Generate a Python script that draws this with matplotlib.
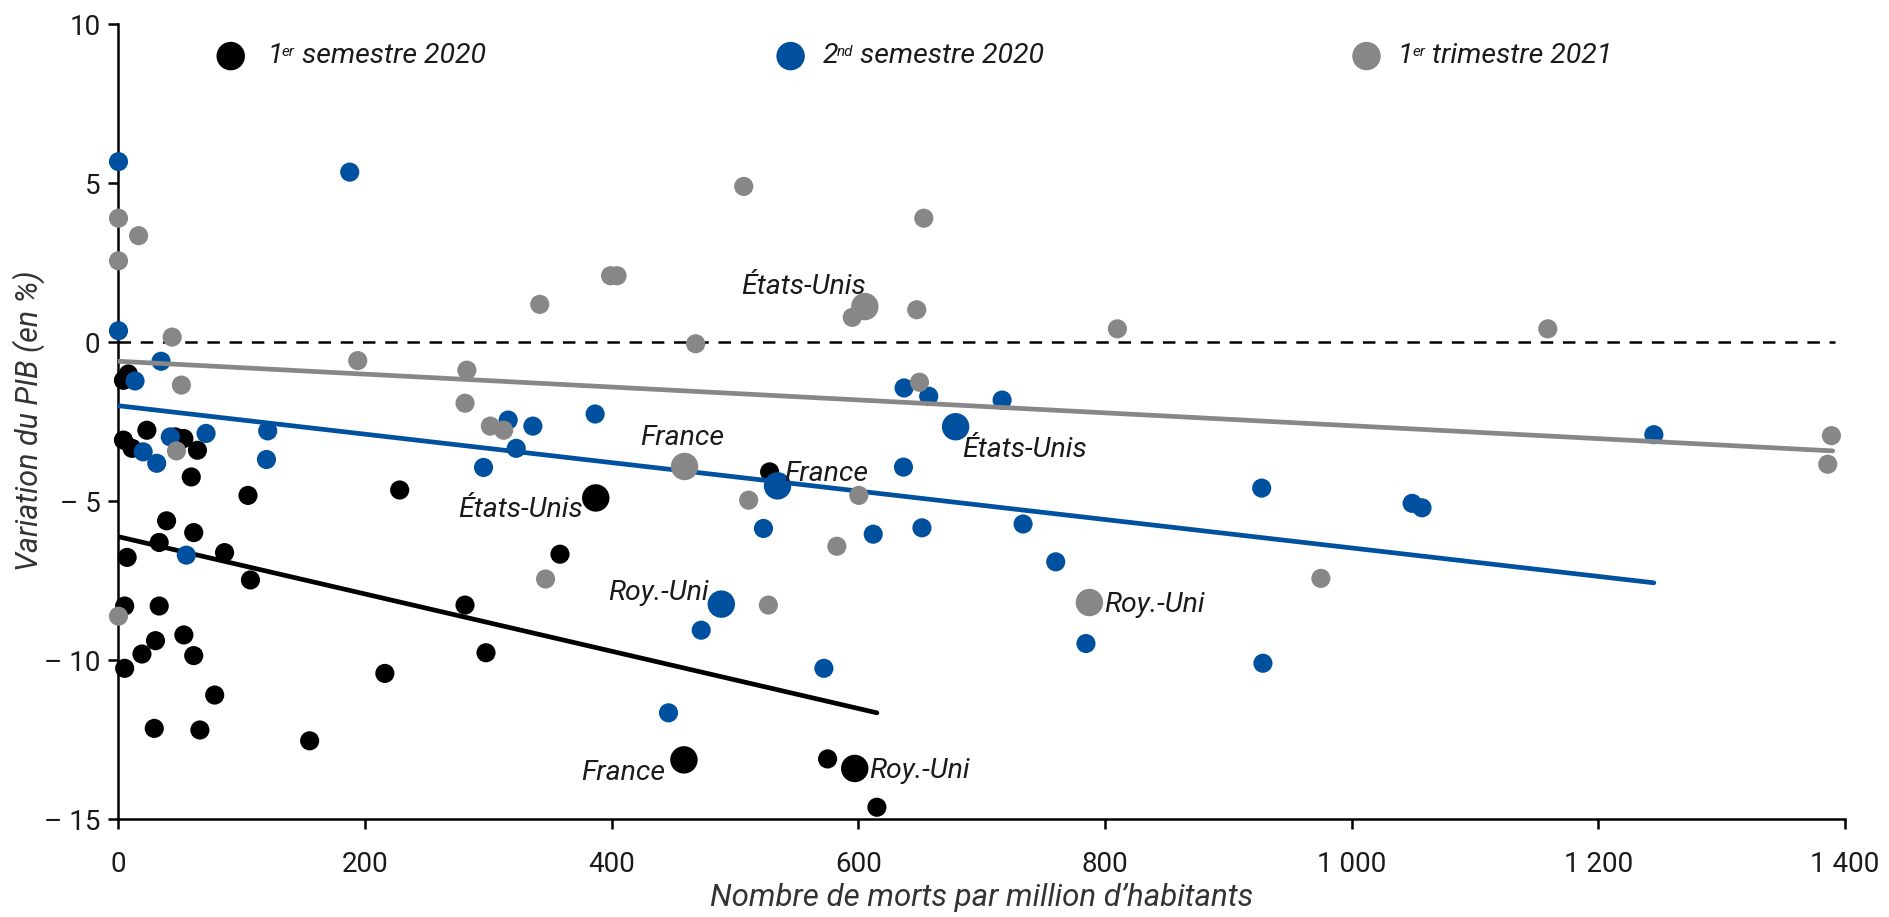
import matplotlib
matplotlib.use("Agg")
import matplotlib.pyplot as plt
import numpy as np

plt.rcParams['font.family'] = ['Roboto', 'DejaVu Sans']
plt.rcParams['lines.scale_dashes'] = False

# ---------------- data ----------------
series_names = ["1er semestre 2020", "2nd semestre 2020", "1er trimestre 2021"]
series_colors = ["#000000", "#0050A0", "#878787"]

# 1er semestre 2020 (black)
s1_x = [4, 8, 23, 4, 11, 46, 53, 64, 59, 105, 228, 39, 61, 33, 7, 86, 107, 358,
        5, 33, 281, 53, 30, 19, 61, 5, 298, 216, 78, 29, 66, 155, 528, 575, 615]
s1_y = [-1.2, -1.0, -2.77, -3.08, -3.34, -2.98, -3.03, -3.40, -4.24, -4.82, -4.65,
        -5.62, -5.99, -6.30, -6.77, -6.62, -7.48, -6.67, -8.30, -8.30, -8.27, -9.21,
        -9.39, -9.81, -9.86, -10.26, -9.77, -10.42, -11.10, -12.15, -12.20, -12.54,
        -4.08, -13.11, -14.63]

# 2nd semestre 2020 (blue)
s2_x = [0, 187.5, 0, 34.5, 13.4, 20, 31, 42, 71, 121, 120, 55, 316, 336, 386.5,
        322.5, 296, 523, 612, 651.5, 637, 657, 716.5, 636.5, 733.5, 760, 927, 1049,
        1057, 928, 784.5, 572, 472.5, 446, 1245]
s2_y = [5.68, 5.35, 0.36, -0.60, -1.22, -3.45, -3.81, -2.98, -2.87, -2.79, -3.69,
        -6.70, -2.45, -2.64, -2.26, -3.34, -3.94, -5.86, -6.04, -5.84, -1.44, -1.70,
        -1.82, -3.93, -5.72, -6.91, -4.59, -5.07, -5.21, -10.10, -9.48, -10.26,
        -9.06, -11.66, -2.91]

# 1er trimestre 2021 (gray)
s3_x = [0, 16.3, 0, 43.5, 341.6, 399, 404.3, 468, 194, 282.5, 51, 281, 301.5, 312.3,
        47, 346.3, 0, 507, 653, 595, 647.3, 810, 649.5, 511, 600.3, 582.5, 527, 975,
        1159, 1389, 1386]
s3_y = [3.90, 3.35, 2.56, 0.16, 1.19, 2.09, 2.09, -0.05, -0.58, -0.88, -1.35, -1.92,
        -2.64, -2.77, -3.42, -7.45, -8.62, 4.90, 3.90, 0.78, 1.02, 0.42, -1.26, -4.97,
        -4.82, -6.42, -8.27, -7.43, 0.42, -2.94, -3.84]

# highlighted countries (États-Unis, France, Roy.-Uni) per series
countries = ["États-Unis", "France", "Roy.-Uni"]
hl1_x = [387, 458.5, 597]
hl1_y = [-4.90, -13.14, -13.41]
hl2_x = [678.8, 534.4, 488.8]
hl2_y = [-2.66, -4.52, -8.24]
hl3_x = [605.2, 459, 787.3]
hl3_y = [1.12, -3.91, -8.19]

# trend lines (intercept, slope, x-range end)
trend_intercept = [-6.12, -2.00, -0.60]
trend_slope = [(-11.66 + 6.12) / 615, (-7.57 + 2.00) / 1245, (-3.42 + 0.60) / 1390]
trend_xmax = [615, 1245, 1390]

y_ticks = [-15, -10, -5, 0, 5, 10]
y_ticklabels = ["\u2013 15", "\u2013 10", "\u2013 5", "0", "5", "10"]
x_ticks = [0, 200, 400, 600, 800, 1000, 1200, 1400]
x_ticklabels = ["0", "200", "400", "600", "800", "1 000", "1 200", "1 400"]

# ---------------- figure ----------------
W, H = 1890, 917
fig = plt.figure(figsize=(W / 100, H / 100), dpi=100)
ax = fig.add_axes([118.5 / W, 98 / H, (1845 - 118.5) / W, (819 - 24.3) / H])
ax.set_xlim(0, 1400)
ax.set_ylim(-15, 10)

small_s = 190
big_s = 390
txt_col = "#1a1a1a"

xs = [s1_x, s2_x, s3_x]
ys = [s1_y, s2_y, s3_y]
hxs = [hl1_x, hl2_x, hl3_x]
hys = [hl1_y, hl2_y, hl3_y]

# zero line
ax.plot([0, 1392], [0, 0], color="black", lw=1.8, dashes=(9, 7), zorder=1)

z = 2
for i in range(3):
    c = series_colors[i]
    ax.scatter(xs[i], ys[i], s=small_s, color=c, edgecolors="none", zorder=z, clip_on=False)
    ax.scatter(hxs[i], hys[i], s=big_s, color=c, edgecolors="none", zorder=z, clip_on=False)
    xl = np.array([0, trend_xmax[i]])
    ax.plot(xl, trend_intercept[i] + trend_slope[i] * xl, color=c, lw=3.4,
            solid_capstyle="round", zorder=z + 1)
    z += 2

# country labels
lab_kw = dict(fontsize=20.5, style="italic", color=txt_col, va="baseline", zorder=10)
# 1er semestre 2020
ax.text(377, -5.5, "États-Unis", ha="right", **lab_kw)
ax.text(443, -13.77, "France", ha="right", **lab_kw)
ax.text(609, -13.72, "Roy.-Uni", ha="left", **lab_kw)
# 2nd semestre 2020
ax.text(684, -3.6, "États-Unis", ha="left", **lab_kw)
ax.text(540, -4.37, "France", ha="left", **lab_kw)
ax.text(479, -8.1, "Roy.-Uni", ha="right", **lab_kw)
# 1er trimestre 2021
ax.text(606, 1.5, "États-Unis", ha="right", **lab_kw)
ax.text(423, -3.25, "France", ha="left", **lab_kw)
ax.text(799, -8.48, "Roy.-Uni", ha="left", **lab_kw)

# legend (manual)
leg_mx = [91, 545, 1012]
leg_tx = [121, 571, 1037.5]
leg_y = 9.0
leg_parts = [("1", "er", " semestre 2020"), ("2", "nd", " semestre 2020"), ("1", "er", " trimestre 2021")]
for i in range(3):
    ax.scatter([leg_mx[i]], [leg_y], s=420, color=series_colors[i], edgecolors="none",
               clip_on=False, zorder=10)
    a, sup, b = leg_parts[i]
    t1 = ax.text(leg_tx[i], leg_y, a, fontsize=20.5, style="italic", color=txt_col,
                 va="center", ha="left")
    t2 = ax.annotate(sup, xy=(0.92, 0.93), xycoords=t1, fontsize=11, style="italic",
                     color=txt_col, va="top", ha="left")
    ax.annotate(b, xy=(1.0, 0.0), xycoords=(t2, t1), fontsize=20.5, style="italic",
                color=txt_col, va="bottom", ha="left")

# axes styling
for sp in ["top", "right"]:
    ax.spines[sp].set_visible(False)
for sp in ["left", "bottom"]:
    ax.spines[sp].set_linewidth(1.8)
    ax.spines[sp].set_color("black")

ax.set_yticks(y_ticks)
ax.set_yticklabels(y_ticklabels)
ax.set_xticks(x_ticks)
ax.set_xticklabels(x_ticklabels)
ax.tick_params(axis="both", direction="out", length=7, width=1.8, labelsize=20,
               colors="black", labelcolor=txt_col)
ax.tick_params(axis="x", pad=16)
ax.tick_params(axis="y", pad=6)

fig.text(29 / W, 1 - 421 / H, "Variation du PIB (en %)", rotation=90, ha="center",
         va="center", fontsize=22, style="italic", color="#333333")
fig.text(981.7 / W, 1 - 898 / H, "Nombre de morts par million d\u2019habitants", ha="center",
         va="center", fontsize=22.5, style="italic", color="#333333")

fig.savefig("out.png", dpi=100)
